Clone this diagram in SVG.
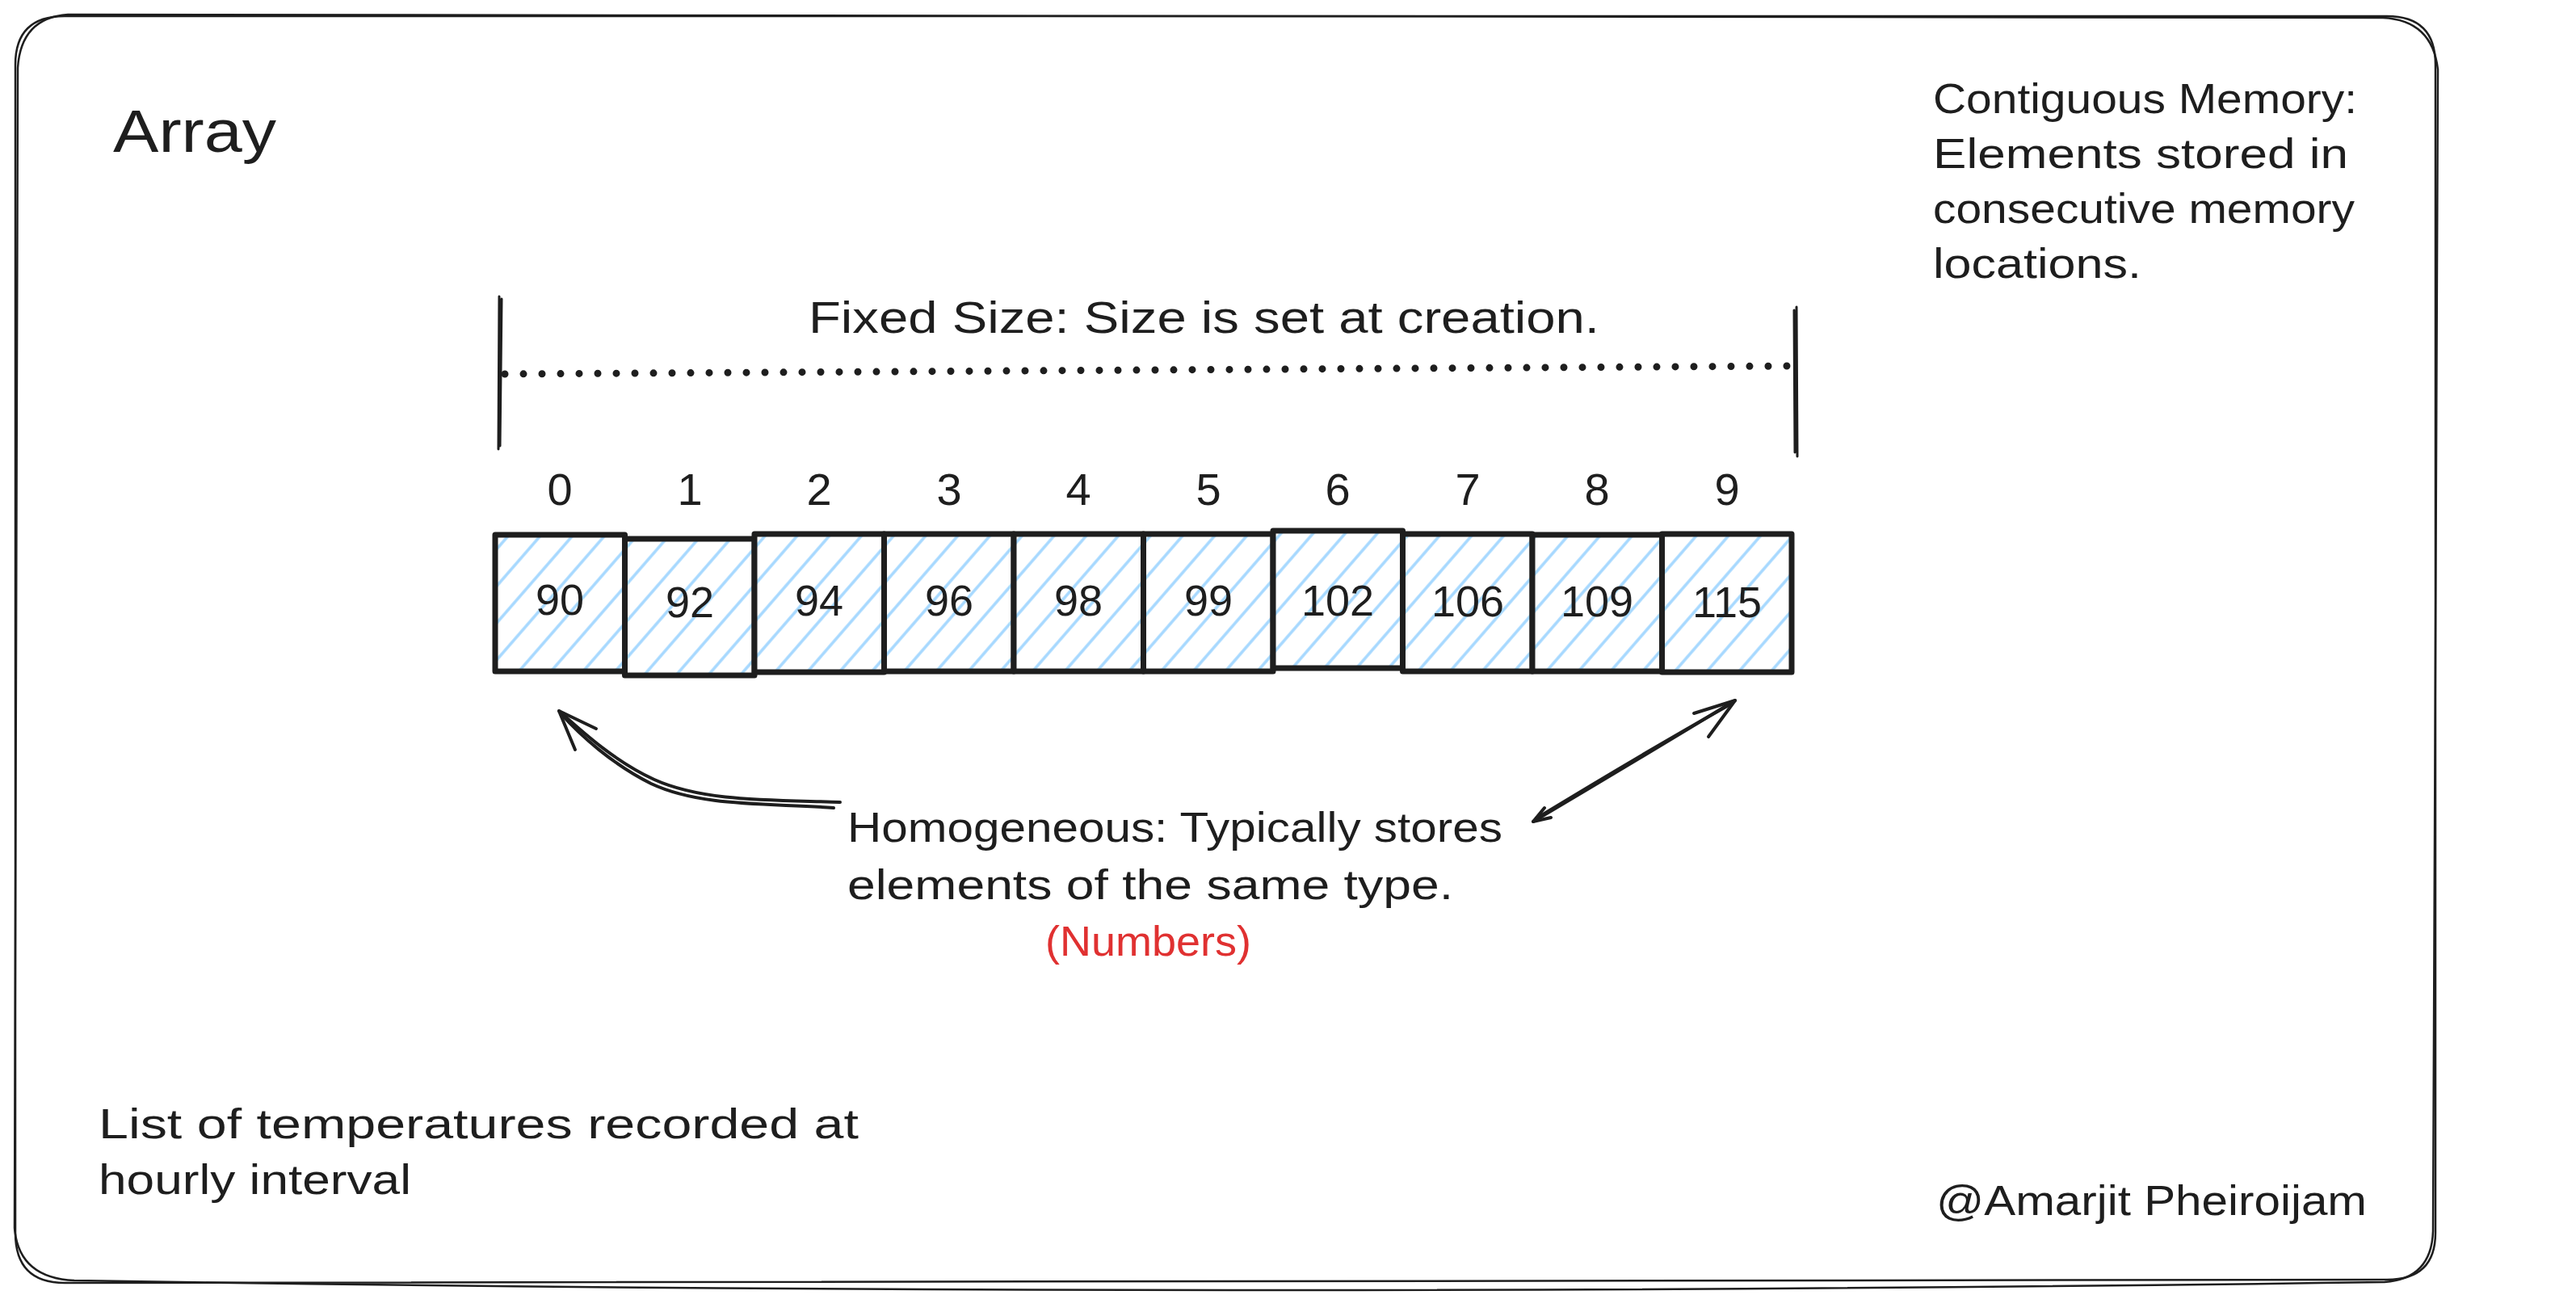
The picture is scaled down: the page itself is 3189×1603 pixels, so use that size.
<svg xmlns="http://www.w3.org/2000/svg" width="3189" height="1603" viewBox="0 0 3189 1603">
<style>
.t{font-family:"Liberation Sans",Arial,sans-serif;fill:#1e1e1e}
.red{fill:#e03131}
.frame{fill:none;stroke:#1e1e1e;stroke-width:2.5;stroke-linejoin:round}
.cell{fill:url(#hatch);stroke:#1e1e1e;stroke-width:7;stroke-linejoin:round}
.num{font-size:54px;text-anchor:middle}
.idx{font-size:56px;text-anchor:middle}
.note{font-size:52px}
.ln{fill:none;stroke:#1e1e1e;stroke-width:4;stroke-linecap:round;stroke-linejoin:round}
.thin{fill:none;stroke:#1e1e1e;stroke-width:3;stroke-linecap:round}
</style>
<defs>
<pattern id="hatch" patternUnits="userSpaceOnUse" width="30" height="30" patternTransform="rotate(41)">
<rect width="30" height="30" fill="#ffffff"/>
<line x1="10" y1="0" x2="10" y2="30" stroke="#a5d8ff" stroke-width="3.5"/>
</pattern>
</defs>
<rect width="3189" height="1603" fill="#ffffff"/>

<g id="frame">
<path class="frame" d="M80,20 H2955 Q3015,20 3015,80 V1526 Q3015,1584 2955,1584 L80,1588 Q19,1588 19,1526 V80 Q19,20 80,20 Z"/>
<path class="frame" d="M84,18 L2950,22 Q3011,25 3018,86 L3012,1524 Q3010,1583 2952,1587 Q1500,1608 92,1585 Q23,1582 18,1520 L22,84 Q26,22 84,18 Z"/>
</g>

<g id="title">
<text class="t" x="140" y="188" font-size="74" textLength="202" lengthAdjust="spacingAndGlyphs">Array</text>
</g>

<g id="contiguous-note">
<text class="t note" x="2393" y="140" textLength="525" lengthAdjust="spacingAndGlyphs">Contiguous Memory:</text>
<text class="t note" x="2393" y="208" textLength="514" lengthAdjust="spacingAndGlyphs">Elements stored in</text>
<text class="t note" x="2393" y="276" textLength="522" lengthAdjust="spacingAndGlyphs">consecutive memory</text>
<text class="t note" x="2393" y="344" textLength="258" lengthAdjust="spacingAndGlyphs">locations.</text>
</g>

<g id="fixed-size">
<path class="thin" d="M618,367 L617,556 M621,370 L619,552"/>
<path class="thin" d="M2224,380 L2225,565 M2221,384 L2222,560"/>
<path d="M625,463 L2220,453" fill="none" stroke="#1e1e1e" stroke-width="9" stroke-linecap="round" stroke-dasharray="0 23"/>
<text class="t" x="1001" y="412" font-size="56" textLength="979" lengthAdjust="spacingAndGlyphs">Fixed Size: Size is set at creation.</text>
</g>

<g id="indices">
<text class="t idx" x="693" y="625">0</text>
<text class="t idx" x="854" y="625">1</text>
<text class="t idx" x="1014" y="625">2</text>
<text class="t idx" x="1175" y="625">3</text>
<text class="t idx" x="1335" y="625">4</text>
<text class="t idx" x="1496" y="625">5</text>
<text class="t idx" x="1656" y="625">6</text>
<text class="t idx" x="1817" y="625">7</text>
<text class="t idx" x="1977" y="625">8</text>
<text class="t idx" x="2138" y="625">9</text>
</g>

<g id="cell-0"><rect class="cell" x="613" y="662" width="160.5" height="169"/><text class="t num" x="693" y="761">90</text></g>
<g id="cell-1"><rect class="cell" x="773.5" y="667" width="160.5" height="169"/><text class="t num" x="854" y="764">92</text></g>
<g id="cell-2"><rect class="cell" x="934" y="661" width="160.5" height="171"/><text class="t num" x="1014" y="762">94</text></g>
<g id="cell-3"><rect class="cell" x="1094.5" y="661" width="160.5" height="170"/><text class="t num" x="1175" y="762">96</text></g>
<g id="cell-4"><rect class="cell" x="1255" y="661" width="160.5" height="170"/><text class="t num" x="1335" y="762">98</text></g>
<g id="cell-5"><rect class="cell" x="1415.5" y="661" width="160.5" height="170"/><text class="t num" x="1496" y="762">99</text></g>
<g id="cell-6"><rect class="cell" x="1576" y="657" width="160.5" height="170"/><text class="t num" x="1656" y="762">102</text></g>
<g id="cell-7"><rect class="cell" x="1736.5" y="661" width="160.5" height="170"/><text class="t num" x="1817" y="763">106</text></g>
<g id="cell-8"><rect class="cell" x="1897" y="662" width="160.5" height="169"/><text class="t num" x="1977" y="763">109</text></g>
<g id="cell-9"><rect class="cell" x="2057.5" y="661" width="160.5" height="171"/><text class="t num" x="2138" y="764">115</text></g>

<g id="homogeneous-note">
<text class="t note" x="1049" y="1042" textLength="811" lengthAdjust="spacingAndGlyphs">Homogeneous: Typically stores</text>
<text class="t note" x="1049" y="1113" textLength="750" lengthAdjust="spacingAndGlyphs">elements of the same type.</text>
<text class="t note red" x="1294" y="1183" textLength="255" lengthAdjust="spacingAndGlyphs">(Numbers)</text>
</g>

<g id="connectors">
<path class="ln" d="M1040,993 C950,990 870,992 810,965 C760,942 720,905 692,880"/>
<path class="ln" d="M1032,1000 C950,994 868,999 806,970 C758,946 718,910 694,883"/>
<path class="ln" d="M738,902 L692,880 L712,928"/>
<path class="ln" d="M1898,1017 Q2020,945 2148,867"/>
<path class="ln" d="M1902,1013 Q2035,932 2140,873"/>
<path class="ln" d="M2097,883 L2148,867 L2115,912"/>
<path class="ln" d="M1912,1000 L1898,1017 L1920,1012"/>
</g>

<g id="example-note">
<text class="t note" x="122" y="1409" textLength="941" lengthAdjust="spacingAndGlyphs">List of temperatures recorded at</text>
<text class="t note" x="122" y="1478" textLength="387" lengthAdjust="spacingAndGlyphs">hourly interval</text>
</g>

<g id="signature">
<text class="t note" x="2397" y="1504" textLength="533" lengthAdjust="spacingAndGlyphs">@Amarjit Pheiroijam</text>
</g>
</svg>
